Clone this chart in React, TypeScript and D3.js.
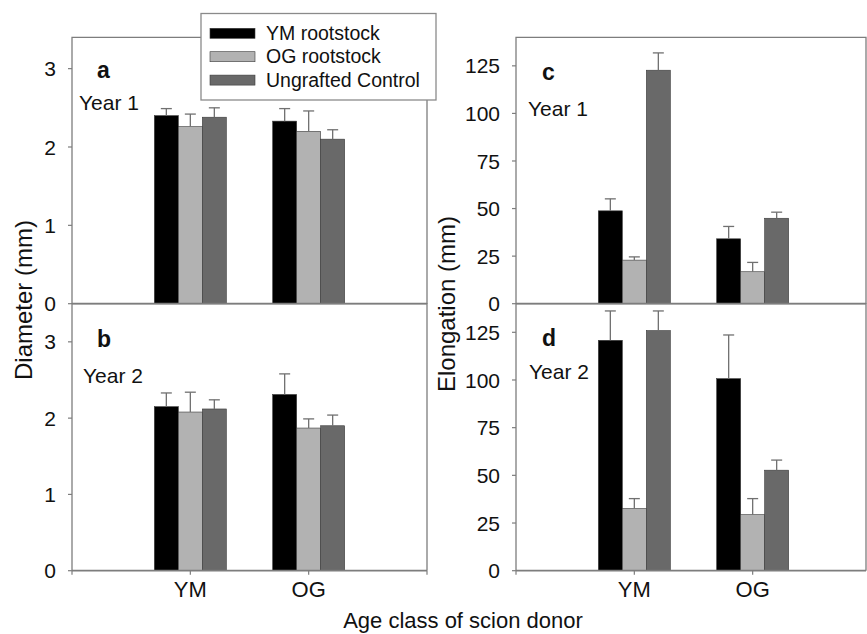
import React from 'react';
import * as d3 from 'd3';

// data
const donors = ['YM', 'OG'];
const rootstocks = ['YM rootstock', 'OG rootstock', 'Ungrafted Control'];
const colors = ['#000000', '#b2b2b2', '#696969'];

// values are [rootstock][donor]
const diameterYear1 = [[2.4, 2.33], [2.26, 2.2], [2.38, 2.1]];
const diameterYear1Err = [[0.09, 0.16], [0.16, 0.26], [0.12, 0.12]];
const diameterYear2 = [[2.15, 2.31], [2.08, 1.87], [2.12, 1.9]];
const diameterYear2Err = [[0.18, 0.27], [0.26, 0.12], [0.12, 0.14]];
const elongYear1 = [[48.8, 34.1], [22.9, 16.8], [122.7, 44.9]];
const elongYear1Err = [[6.3, 6.5], [1.7, 4.9], [9.1, 3.2]];
const elongYear2 = [[120.8, 100.7], [32.6, 29.4], [125.9, 52.7]];
const elongYear2Err = [[15.4, 22.9], [5.2, 8.4], [10.3, 5.3]];

const diameterTicks = [0, 1, 2, 3];
const elongTicks = [0, 25, 50, 75, 100, 125];

const font = '"Liberation Sans", Arial, sans-serif';
const frameColor = '#7d7d7d';
const errColor = '#707070';
const ink = '#111';

const panels = [
  { id: 'a', year: 'Year 1', values: diameterYear1, errs: diameterYear1Err, max: 3.4, ticks: diameterTicks,
    x0: 72, x1: 427, frameRight: 427, top: 37.3, bottom: 303.7, bottomAxis: false,
    letter: [97, 78], yearPos: [79, 110] },
  { id: 'b', year: 'Year 2', values: diameterYear2, errs: diameterYear2Err, max: 3.5, ticks: diameterTicks,
    x0: 72, x1: 427, frameRight: 427, top: 303.7, bottom: 570.7, bottomAxis: true,
    letter: [97, 347], yearPos: [83, 383] },
  { id: 'c', year: 'Year 1', values: elongYear1, errs: elongYear1Err, max: 140, ticks: elongTicks,
    x0: 516, x1: 871, frameRight: 866, top: 37.3, bottom: 303.7, bottomAxis: false,
    letter: [542, 80], yearPos: [528, 116] },
  { id: 'd', year: 'Year 2', values: elongYear2, errs: elongYear2Err, max: 140, ticks: elongTicks,
    x0: 516, x1: 871, frameRight: 866, top: 303.7, bottom: 570.7, bottomAxis: true,
    letter: [542, 346], yearPos: [529, 379] },
];

function Panel({ p }: { p: any }) {
  const x = d3.scaleLinear().domain([0, 3]).range([p.x0, p.x1]);
  const y = d3.scaleLinear().domain([0, p.max]).range([p.bottom, p.top]);
  const inner = d3.scaleBand().domain(rootstocks).range([-36, 36]).padding(0);
  const bw = inner.bandwidth();

  return (
    <g>
      {rootstocks.map((r, si) =>
        donors.map((dn, di) => {
          const cx = x(di + 1) + (inner(r) as number);
          const v = p.values[si][di];
          const e = p.errs[si][di];
          const mid = cx + bw / 2;
          return (
            <g key={r + dn}>
              <rect x={cx} y={y(v)} width={bw} height={y(0) - y(v)} fill={colors[si]} stroke="#3a3a3a" strokeWidth={0.6} />
              <line x1={mid} x2={mid} y1={y(v)} y2={y(v + e)} stroke={errColor} strokeWidth={1.3} />
              <line x1={mid - 5.5} x2={mid + 5.5} y1={y(v + e)} y2={y(v + e)} stroke={errColor} strokeWidth={1.3} />
            </g>
          );
        })
      )}
      {/* frame */}
      <path
        d={`M${p.x0},${p.bottom}V${p.top}H${p.frameRight}V${p.bottom}`}
        fill="none"
        stroke={frameColor}
        strokeWidth={1.3}
      />
      <line x1={p.x0} x2={p.frameRight} y1={y(0)} y2={y(0)} stroke={frameColor} strokeWidth={1.8} />
      {p.ticks.map((t: number) => (
        <g key={t}>
          <line x1={p.x0 - 4} x2={p.x0} y1={y(t)} y2={y(t)} stroke={frameColor} strokeWidth={1.2} />
          <text x={p.x0 - 16} y={y(t)} dy="0.36em" textAnchor="end" fontSize={21} fontFamily={font} fill={ink}>
            {t}
          </text>
        </g>
      ))}
      {p.bottomAxis &&
        [0, 1, 2, 3].map((t) => (
          <line key={t} x1={x(t)} x2={x(t)} y1={p.bottom} y2={p.bottom + 4} stroke={frameColor} strokeWidth={1.2} />
        ))}
      {p.bottomAxis &&
        donors.map((dn, di) => (
          <text key={dn} x={x(di + 1)} y={596.7} textAnchor="middle" fontSize={22} fontFamily={font} fill={ink}>
            {dn}
          </text>
        ))}
      <text x={p.letter[0]} y={p.letter[1]} fontSize={23} fontWeight="bold" fontFamily={font} fill={ink}>
        {p.id}
      </text>
      <text x={p.yearPos[0]} y={p.yearPos[1]} fontSize={21} fontFamily={font} fill={ink}>
        {p.year}
      </text>
    </g>
  );
}

export default function App() {
  return (
    <svg width={867} height={634} style={{ position: 'absolute', left: 0, top: 0, background: '#fff' }}>
      <rect width={867} height={634} fill="#fff" />
      {panels.map((p) => (
        <Panel key={p.id} p={p} />
      ))}
      <text transform="translate(32,300) rotate(-90)" textAnchor="middle" fontSize={24} fontFamily={font} fill={ink}>
        Diameter (mm)
      </text>
      <text transform="translate(455,304) rotate(-90)" textAnchor="middle" fontSize={24} fontFamily={font} fill={ink}>
        Elongation (mm)
      </text>
      <text x={463} y={628} textAnchor="middle" fontSize={22} fontFamily={font} fill={ink}>
        Age class of scion donor
      </text>
      {/* legend */}
      <g>
        <rect x={201} y={13.5} width={235} height={86.5} fill="#fff" stroke="#8a8a8a" strokeWidth={1.3} />
        {rootstocks.map((r, i) => (
          <g key={r}>
            <rect x={210} y={28.3 + i * 23.4} width={45} height={10} fill={colors[i]} stroke="#3a3a3a" strokeWidth={0.6} />
            <text x={266} y={40 + i * 23.4} fontSize={19.5} fontFamily={font} fill={ink}>
              {r}
            </text>
          </g>
        ))}
      </g>
    </svg>
  );
}
